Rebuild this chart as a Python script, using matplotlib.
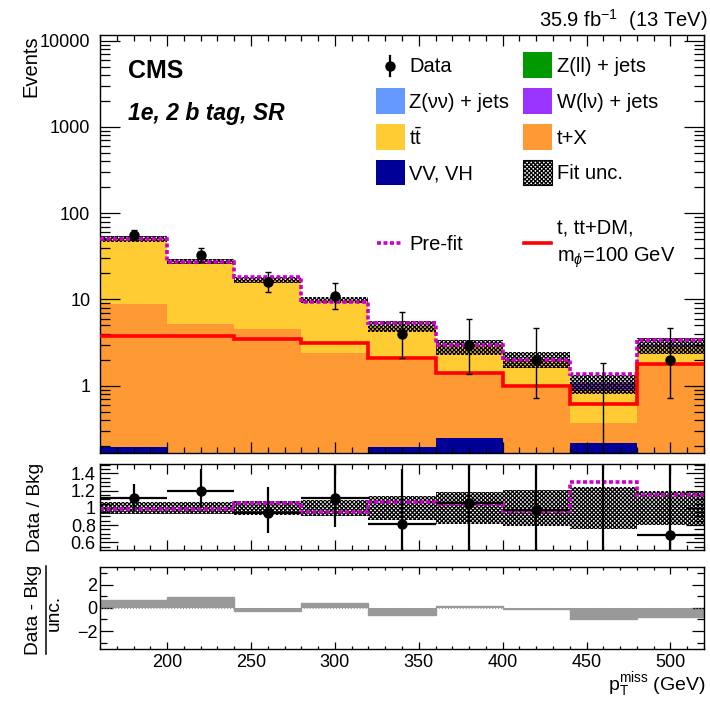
import numpy as np
import matplotlib
matplotlib.use("Agg")
import matplotlib.pyplot as plt
from matplotlib.patches import Rectangle
from matplotlib.lines import Line2D
from matplotlib.ticker import FixedLocator, MultipleLocator, FixedFormatter, NullFormatter, LogLocator

plt.rcParams['font.family'] = ['Liberation Sans', 'DejaVu Sans']
plt.rcParams['mathtext.fontset'] = 'custom'
plt.rcParams['mathtext.rm'] = 'Liberation Sans'
plt.rcParams['mathtext.it'] = 'Liberation Sans:italic'
plt.rcParams['mathtext.bf'] = 'Liberation Sans:bold'
plt.rcParams['hatch.linewidth'] = 0.9
plt.rcParams['hatch.color'] = 'black'

# ---- binning and yields -------------------------------------------------
bin_edges = [160, 200, 240, 280, 320, 360, 400, 440, 480, 520]

data = [56, 33, 16, 11, 4, 3, 2, 0, 2]
data_err_lo = [7.4, 5.7, 3.96, 3.28, 1.91, 1.63, 1.29, 0.0, 1.29]
data_err_hi = [8.5, 6.8, 5.08, 4.42, 3.16, 2.92, 2.64, 1.84, 2.64]

bkg_vv_vh = [0.197, 0.0, 0.0, 0.0, 0.197, 0.25, 0.0, 0.216, 0.0]
bkg_t_x = [8.70, 5.20, 4.60, 2.40, 1.80, 1.10, 0.95, 0.154, 1.78]
bkg_ttbar = [41.6, 22.3, 12.4, 7.5, 2.94, 1.48, 1.09, 0.49, 1.04]
bkg_zvv = [0.0, 0.0, 0.0, 0.0, 0.0, 0.0, 0.0, 0.0, 0.0]
bkg_wlv = [0.0, 0.0, 0.0, 0.0, 0.0, 0.0, 0.0, 0.20, 0.12]
bkg_zll = [0.0, 0.0, 0.0, 0.0, 0.0, 0.0, 0.0, 0.0, 0.0]

fit_unc_rel = [0.07, 0.07, 0.085, 0.09, 0.14, 0.19, 0.21, 0.24, 0.20]
prefit_total = [50.0, 27.2, 18.0, 9.45, 5.3, 2.97, 1.96, 1.38, 3.38]
signal = [3.8, 3.75, 3.5, 3.1, 2.1, 1.39, 0.98, 0.61, 1.79]
pulls = [0.68, 0.97, -0.28, 0.40, -0.60, 0.12, -0.10, -0.92, -0.75]

# ---- colours -------------------------------------------------------------
c_vv = '#000099'
c_tx = '#ff9933'
c_tt = '#ffcc33'
c_zvv = '#6699ff'
c_wlv = '#9933ff'
c_zll = '#009900'
c_prefit = '#cc00cc'
c_sig = '#ff0000'
HATCH = 'xxxxxxxx'

edges = np.array(bin_edges, dtype=float)
centers = 0.5 * (edges[:-1] + edges[1:])
half_w = 0.5 * np.diff(edges)

components = [(bkg_vv_vh, c_vv), (bkg_t_x, c_tx), (bkg_ttbar, c_tt),
              (bkg_zvv, c_zvv), (bkg_wlv, c_wlv), (bkg_zll, c_zll)]
total = np.sum([np.array(v) for v, _ in components], axis=0)
unc = np.array(fit_unc_rel)
d = np.array(data, dtype=float)

W, H = 710, 702
fig = plt.figure(figsize=(W / 100, H / 100), dpi=100)


def fx(px):
    return px / W


def fy(py):
    return 1 - py / H


L, R = 100, 704
ax = fig.add_axes([fx(L), fy(452.7), fx(R) - fx(L), (452.7 - 35) / H])
axr = fig.add_axes([fx(L), fy(550), fx(R) - fx(L), (550 - 464) / H])
axp = fig.add_axes([fx(L), fy(649), fx(R) - fx(L), (649 - 566.7) / H])

# ---- main panel: stacked backgrounds ---------------------------------------
bottom = np.zeros(len(centers))
for vals, col in components:
    top = bottom + np.array(vals)
    ax.stairs(top, edges, baseline=bottom, fill=True, color=col, lw=0, zorder=1)
    bottom = top

ax.stairs(total * (1 + unc), edges, baseline=total * (1 - unc), fill=True,
          facecolor='none', edgecolor='black', hatch=HATCH, lw=0, zorder=2)
ax.stairs(prefit_total, edges, baseline=None, color=c_prefit, lw=2.6,
          ls=(0, (1.1, 0.7)), zorder=3)
ax.stairs(signal, edges, baseline=None, color=c_sig, lw=2.6, zorder=3)
ax.errorbar(centers, d, yerr=[data_err_lo, data_err_hi], fmt='o', color='black',
            ms=6.5, elinewidth=1.0, capsize=2.2, capthick=1.0, zorder=5)

ax.set_yscale('log')
ax.set_xlim(edges[0], edges[-1])
ax.set_ylim(0.167, 11650)

# ---- ratio panel -------------------------------------------------------------
axr.stairs(1 + unc, edges, baseline=1 - unc, fill=True, facecolor='none',
           edgecolor='black', hatch=HATCH, lw=0, zorder=1)
axr.stairs(np.array(prefit_total) / total, edges, baseline=None, color=c_prefit,
           lw=2.6, ls=(0, (1.1, 0.7)), zorder=2)
axr.errorbar(centers, d / total, xerr=half_w,
             yerr=[np.array(data_err_lo) / total, np.array(data_err_hi) / total],
             fmt='o', color='black', ms=6.5, elinewidth=1.6, capsize=0, zorder=3)
axr.set_xlim(edges[0], edges[-1])
axr.set_ylim(0.51, 1.51)

# ---- pull panel --------------------------------------------------------------
axp.stairs(pulls, edges, baseline=0, fill=True, color='#999999', lw=0)
axp.stairs(pulls, edges, baseline=0, fill=False, color='#999999', lw=1.0)
axp.axhline(0, color='#999999', ls=':', lw=0.8)
axp.set_xlim(edges[0], edges[-1])
axp.set_ylim(-3.55, 3.55)

# ---- axes styling --------------------------------------------------------------
TICK_FS = 13
for a in (ax, axr, axp):
    for s in a.spines.values():
        s.set_linewidth(1.0)
    a.xaxis.set_major_locator(MultipleLocator(50))
    a.xaxis.set_minor_locator(MultipleLocator(10))

ax.tick_params(axis='both', which='both', direction='in', top=True, right=True,
               labelsize=TICK_FS, width=0.9)
ax.tick_params(axis='x', which='major', length=8, labelbottom=False)
ax.tick_params(axis='x', which='minor', length=4.5)
ax.tick_params(axis='y', which='major', length=14.4, pad=7)
ax.tick_params(axis='y', which='minor', length=7.2)
ax.yaxis.set_major_locator(FixedLocator([1, 10, 100, 1000, 10000]))
ax.yaxis.set_major_formatter(FixedFormatter(['1', '10', '100', '1000', '10000']))
ax.yaxis.set_minor_locator(LogLocator(base=10, subs=np.arange(2, 10), numticks=20))
ax.yaxis.set_minor_formatter(NullFormatter())

axr.tick_params(axis='both', which='both', direction='in', top=True, right=True,
                labelsize=TICK_FS, width=0.9)
axr.tick_params(axis='x', which='major', length=7, labelbottom=False)
axr.tick_params(axis='x', which='minor', length=3.6)
axr.tick_params(axis='y', which='major', length=13, pad=3)
axr.tick_params(axis='y', which='minor', length=7)
axr.yaxis.set_major_locator(FixedLocator([0.6, 0.8, 1.0, 1.2, 1.4]))
axr.yaxis.set_major_formatter(FixedFormatter(['0.6', '0.8', '1', '1.2', '1.4']))
axr.yaxis.set_minor_locator(MultipleLocator(0.05))

axp.tick_params(axis='both', which='both', direction='in', top=True, right=True,
                labelsize=TICK_FS, width=0.9)
axp.tick_params(axis='x', which='major', length=4.8, pad=3.5)
axp.tick_params(axis='x', which='minor', length=2.4)
axp.tick_params(axis='y', which='major', length=9, pad=2)
axp.tick_params(axis='y', which='minor', length=4.8)
axp.yaxis.set_major_locator(FixedLocator([-2, 0, 2]))
axp.yaxis.set_major_formatter(FixedFormatter(['\u22122', '0', '2']))
axp.yaxis.set_minor_locator(MultipleLocator(1))

# ---- labels ---------------------------------------------------------------------
fig.text(fx(31), fy(35), 'Events', rotation=90, ha='center', va='top', fontsize=14.5)
fig.text(fx(36), fy(507), 'Data / Bkg', rotation=90, ha='center', va='center', fontsize=13.8)
fig.text(fx(34), fy(610), 'Data - Bkg', rotation=90, ha='center', va='center', fontsize=13.8)
fig.text(fx(54), fy(613), 'unc.', rotation=90, ha='center', va='center', fontsize=13.8)
fig.add_artist(Line2D([fx(46), fx(46)], [fy(566), fy(654)], color='black', lw=1.1,
                      transform=fig.transFigure))
fig.text(fx(706), fy(690), r'p$_{\mathrm{T}}^{\mathrm{miss}}$ (GeV)', ha='right',
         va='baseline', fontsize=14)
fig.text(fx(707), fy(27), r'35.9 fb$^{-1}$  (13 TeV)', ha='right', va='baseline', fontsize=14.5)
fig.text(fx(128), fy(78), 'CMS', fontsize=18, fontweight='bold', va='baseline')
fig.text(fx(128), fy(120), '1e, 2 b tag, SR', fontsize=16.5, fontweight='bold',
         style='italic', va='baseline')

# ---- legend ---------------------------------------------------------------------
leg_fs = 14.5
tf = fig.transFigure


def box(x0, yc, color, hatch=None):
    w, h = 28.5, 25.7
    if hatch:
        p = Rectangle((fx(x0), fy(yc + h / 2)), w / W, h / H, transform=tf,
                      facecolor='white', edgecolor='black', hatch=hatch, lw=0.8)
    else:
        p = Rectangle((fx(x0), fy(yc + h / 2)), w / W, h / H, transform=tf,
                      facecolor=color, edgecolor='none')
    fig.add_artist(p)


col1_box, col1_txt = 376, 409
col2_box, col2_txt = 523, 557
rows = [65, 101, 137, 172.5]

# data entry
fig.add_artist(Line2D([fx(390), fx(390)], [fy(56), fy(76)], color='black', lw=1.6,
                      transform=tf))
fig.add_artist(Line2D([fx(390)], [fy(66)], color='black', marker='o', ms=6.5,
                      transform=tf))
fig.text(fx(col1_txt), fy(rows[0] + 1), 'Data', fontsize=leg_fs, va='center')

entries_col1 = [(c_zvv, 'Z(\u03bd\u03bd) + jets'), (c_tt, r't$\bar{\mathrm{t}}$'),
                (c_vv, 'VV, VH')]
for (col, lab), yc in zip(entries_col1, rows[1:]):
    box(col1_box, yc, col)
    fig.text(fx(col1_txt), fy(yc + 1), lab, fontsize=leg_fs, va='center')

entries_col2 = [(c_zll, 'Z(ll) + jets'), (c_wlv, 'W(l\u03bd) + jets'),
                (c_tx, 't+X')]
for (col, lab), yc in zip(entries_col2, rows[:3]):
    box(col2_box, yc, col)
    fig.text(fx(col2_txt), fy(yc + 1), lab, fontsize=leg_fs, va='center')
box(col2_box, rows[3], None, hatch=HATCH)
fig.text(fx(col2_txt), fy(rows[3] + 1), 'Fit unc.', fontsize=leg_fs, va='center')

fig.add_artist(Line2D([fx(377), fx(403)], [fy(243), fy(243)], color=c_prefit, lw=2.6,
                      ls=(0, (1.1, 0.7)), transform=tf))
fig.text(fx(col1_txt), fy(244), 'Pre-fit', fontsize=leg_fs, va='center')
fig.add_artist(Line2D([fx(524), fx(551)], [fy(243), fy(243)], color=c_sig, lw=2.6,
                      transform=tf))
fig.text(fx(col2_txt), fy(233), 't, tt+DM,', fontsize=leg_fs, va='baseline')
fig.text(fx(col2_txt), fy(262), r'm$_{\phi}$=100 GeV', fontsize=leg_fs, va='baseline')

fig.savefig('out.png', dpi=100)
